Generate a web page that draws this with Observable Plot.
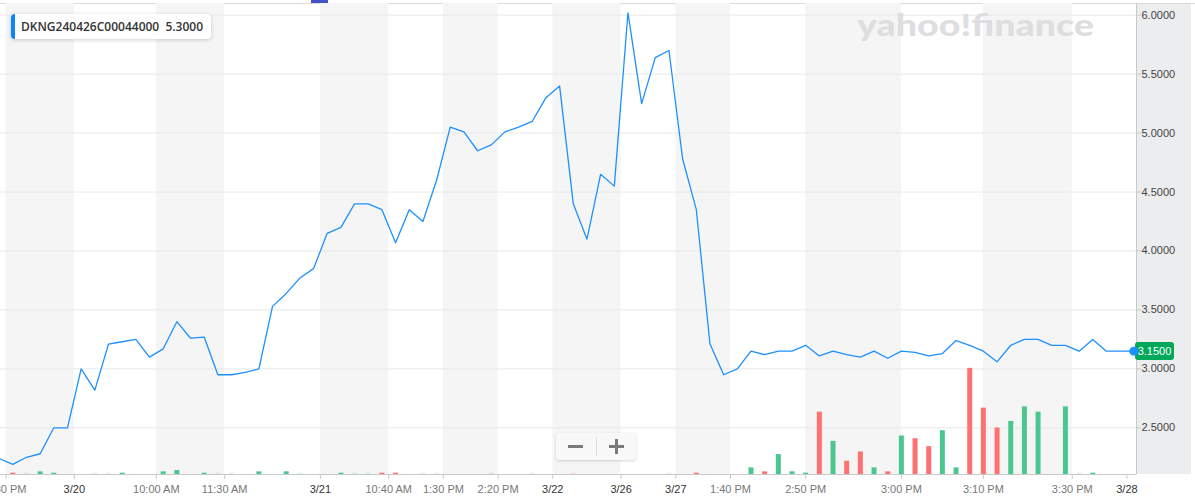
<!DOCTYPE html>
<html><head><meta charset="utf-8">
<script src="https://cdn.jsdelivr.net/npm/d3@7"></script>
<script src="https://cdn.jsdelivr.net/npm/@observablehq/plot@0.6"></script>
<style>
body{margin:0;background:#fff;}
#wrap{position:relative;width:1195px;height:504px;overflow:hidden;font-family:"Liberation Sans",Arial,sans-serif;}
#wrap svg.layer{position:absolute;left:0;top:0;}
#rightbg{position:absolute;left:1136px;top:4px;width:55px;height:470px;background:#ecedef;}
#topline{position:absolute;left:0;top:3px;width:1195px;height:1px;background:#dcdcdc;}
#tab{position:absolute;left:311px;top:0;width:17px;height:3px;background:#4650c8;}
#legend{position:absolute;left:11px;top:14px;height:25px;background:#fff;border-left:4px solid #0a84ff;border-radius:4px;box-shadow:0 1px 4px rgba(0,0,0,0.18);font-family:"Open Sans",sans-serif;font-weight:600;font-size:12px;color:#333;line-height:25px;padding-left:6px;box-sizing:border-box;width:200px;white-space:pre;}
#zoom{position:absolute;left:556px;top:433px;width:80px;height:27px;background:#f8f8f8;border-radius:3px;box-shadow:0 1px 3px rgba(0,0,0,0.16);}
#zoom .b{position:absolute;background:#7a7a7a;}
#pricetag{position:absolute;left:1135px;width:39px;height:18px;background:#00a85a;border-radius:3px;color:#fff;font-size:11px;line-height:18px;text-align:center;}
</style></head><body>
<div id="wrap">
  <div id="rightbg"></div>
  <div id="topline"></div>
  <div id="tab"></div>
</div>
<script>
// ---- data ----
const price = [2.24,2.19,2.25,2.28,2.50,2.50,3.00,2.82,3.21,3.23,
  3.25,3.10,3.17,3.40,3.26,3.27,2.95,2.95,2.97,3.00,
  3.53,3.64,3.77,3.85,4.15,4.20,4.40,4.40,4.35,4.07,
  4.35,4.25,4.60,5.05,5.01,4.85,4.90,5.01,5.05,5.10,
  5.30,5.40,4.40,4.10,4.65,4.55,6.02,5.25,5.64,5.70,
  4.78,4.35,3.21,2.95,3.00,3.15,3.12,3.15,3.15,3.20,
  3.11,3.15,3.12,3.10,3.15,3.09,3.15,3.14,3.11,3.13,
  3.24,3.20,3.15,3.06,3.20,3.25,3.25,3.20,3.20,3.15,
  3.25,3.15,3.15,3.15];
// volume (contracts); null = no bar, 0 = zero-volume candle
const volume = [null,1,0,2,1,null,null,0,0,1,
  null,null,2,3,null,1,0,0,null,2,
  null,2,0,null,null,1,0,0,1,1,
  null,0,0,null,null,null,0,null,null,0,
  null,null,0,null,null,null,null,null,null,0,
  null,1,null,null,null,5,2,15,2,1,
  47,25,10,17,5,2,29,27,21,33,
  5,80,50,35,40,51,47,null,51,0,
  1,null,null,null];
const tickPos = [0.5,5.5,11.5,16.5,23.5,28.5,32.5,36.5,40.5,45.5,49.5,53.5,59,66,72,78.5,82.5];
const tickLabel = ["3:30 PM","3/20","10:00 AM","11:30 AM","3/21","10:40 AM","1:30 PM","2:20 PM","3/22","3/26","3/27","1:40 PM","2:50 PM","3:00 PM","3:10 PM","3:30 PM","3/28"];
const priceTicks = [2.5,3.0,3.5,4.0,4.5,5.0,5.5,6.0];
const symbol = "DKNG240426C00044000";
const quote = "5.3000";

// ---- build ----
const rows = price.map((p,i)=>({i, price:p, vol:volume[i], dir: (i>0 && p < price[i-1]) ? "down" : "up"}));
const labelAt = new Map(tickPos.map((p,k)=>[p,tickLabel[k]]));
const datePos = tickPos.filter((p,k)=>tickLabel[k].includes("/"));
const timePos = tickPos.filter((p,k)=>!tickLabel[k].includes("/"));
const bands = d3.range(0, tickPos.length-1, 2).map(k=>({a:tickPos[k], b:tickPos[k+1]}));

const W=1195, H=504;
const common = {width:W, height:H, marginTop:3, marginRight:59, marginBottom:30, marginLeft:0};
const xDomain=[0.1,83.2];
const yDomain=[2.104,6.099];
const font = {background:"transparent", fontFamily:"'Liberation Sans', Arial, sans-serif", fontSize:"11px"};

const plotA = Plot.plot({
  ...common, style:font,
  x:{domain:xDomain, axis:null, label:null},
  y:{domain:yDomain, axis:null, label:null},
  marks:[
    Plot.rect(bands,{x1:"a",x2:"b",fill:"#f5f5f5"}),
    Plot.gridY(priceTicks,{stroke:"#e8e8e8",strokeOpacity:1}),
    Plot.ruleY([yDomain[0]],{stroke:"#c9c9c9"}),
    Plot.ruleX([xDomain[1]],{stroke:"#c9c9c9"}),
    Plot.axisX(timePos,{tickFormat:d=>labelAt.get(d), tickSize:5, tickPadding:6, stroke:"#c9c9c9", fill:"#777", label:null}),
    Plot.axisX(datePos,{tickFormat:d=>labelAt.get(d), tickSize:5, tickPadding:6, stroke:"#c9c9c9", fill:"#333", label:null}),
    Plot.axisY(priceTicks,{anchor:"right", tickFormat:d=>d.toFixed(4), tickSize:4, tickPadding:1, stroke:"#c9c9c9", fill:"#444", label:null}),
    Plot.line(rows,{x:"i",y:"price",stroke:"#1e90ff",strokeWidth:1.3})
  ]
});
plotA.classList.add("layer");

const vrows = rows.filter(d=>d.vol!=null);
const plotB = Plot.plot({
  ...common, style:font,
  x:{domain:xDomain, axis:null},
  y:{domain:[0,355], axis:null},
  color:{domain:["up","down"], range:["#4cc68f","#ff7171"]},
  opacity:{type:"identity"},
  marks:[
    Plot.ruleX(vrows,{x:"i", y1:0, y2:d=>Math.max(d.vol,1), stroke:"dir", strokeWidth:5, strokeOpacity:d=>d.vol>0?1:0.18})
  ]
});
plotB.classList.add("layer");

const wrap = document.getElementById("wrap");
wrap.appendChild(plotA);

// watermark
const ns="http://www.w3.org/2000/svg";
const wm=document.createElementNS(ns,"svg");
wm.setAttribute("width",W); wm.setAttribute("height",60);
const t=document.createElementNS(ns,"text");
t.setAttribute("x",857); t.setAttribute("y",36);
t.setAttribute("textLength",237); t.setAttribute("lengthAdjust","spacingAndGlyphs");
t.setAttribute("font-family","Lato, 'Open Sans', sans-serif"); t.setAttribute("font-weight","900");
t.setAttribute("font-size","31"); t.setAttribute("fill","#dedee0");
t.textContent="yahoo!finance";
wm.appendChild(t);
wm.style.position="absolute"; wm.style.left="0"; wm.style.top="0";
wrap.appendChild(wm);

wrap.appendChild(plotB);

// legend
const lg=document.createElement("div"); lg.id="legend"; lg.textContent=symbol+"  "+quote; wrap.appendChild(lg);

// price tag
const last=rows[rows.length-1];
const py=plotA.scale("y").apply(last.price);
const tag=document.createElement("div"); tag.id="pricetag"; tag.style.top=(py-9)+"px"; tag.textContent=last.price.toFixed(4);
wrap.appendChild(tag);

// last-point dot drawn through Plot, on top of the tag
const plotC = Plot.plot({
  ...common, style:font,
  x:{domain:xDomain, axis:null},
  y:{domain:yDomain, axis:null},
  marks:[Plot.dot([last],{x:"i",y:"price",r:4.5,fill:"#1e90ff"})]
});
plotC.classList.add("layer");
wrap.appendChild(plotC);

// zoom control
const z=document.createElement("div"); z.id="zoom";
z.innerHTML='<div class="b" style="left:12px;top:12px;width:15px;height:3px"></div>'+
 '<div style="position:absolute;left:40px;top:4px;width:1px;height:19px;background:#ddd"></div>'+
 '<div class="b" style="left:53px;top:12px;width:15px;height:3px"></div>'+
 '<div class="b" style="left:59px;top:6px;width:3px;height:15px"></div>';
wrap.appendChild(z);
</script>
</body></html>
